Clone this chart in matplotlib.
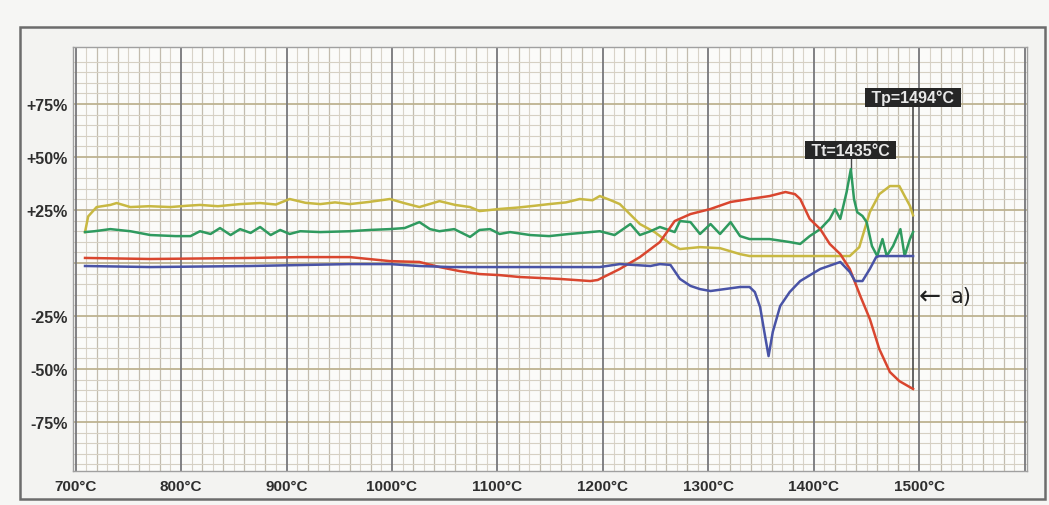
import matplotlib
matplotlib.use("Agg")
import matplotlib.pyplot as plt
from matplotlib.patches import Rectangle
import numpy as np

# ---------------- data ----------------
yellow_t = [709, 712, 720, 733, 739, 752, 770, 790, 805, 818, 835, 856, 875, 890, 903, 918, 932, 946,
            960, 978, 998, 1012, 1026, 1045, 1060, 1074, 1083, 1102, 1120, 1135, 1149, 1165, 1178, 1190,
            1197, 1207, 1216, 1235, 1249, 1264, 1273, 1292, 1311, 1330, 1339, 1377, 1410, 1434, 1443,
            1453, 1462, 1472, 1481, 1486, 1491, 1494]
yellow_v = [14.6, 22, 26.4, 27.4, 28.3, 26.4, 26.8, 26.4, 27.0, 27.4, 26.8, 27.8, 28.3, 27.6, 30.2, 28.4, 27.8, 28.6,
            27.8, 28.8, 30.2, 28.2, 26.4, 29.2, 27.4, 26.4, 24.5, 25.5, 26.2, 27.0, 27.8, 28.6, 30.2, 29.6,
            31.6, 29.7, 27.8, 18.4, 14.6, 9, 6.6, 7.5, 7, 4.2, 3.3, 3.3, 3.3, 3.3, 7.5,
            24, 32.5, 36.3, 36.3, 31.6, 27.0, 22.5]

green_t = [709, 718, 733, 752, 771, 795, 809, 818, 828, 837, 847, 856, 866, 875, 885, 894, 903, 913,
           932, 960, 979, 998, 1012, 1026, 1036, 1045, 1059, 1074, 1083, 1093, 1102, 1112, 1131, 1149,
           1168, 1197, 1211, 1226, 1235, 1245, 1254, 1268, 1273, 1283, 1292, 1302, 1311, 1321, 1330,
           1339, 1358, 1377, 1387, 1396, 1406, 1415, 1420, 1425, 1431, 1435, 1438, 1441, 1446, 1450,
           1455, 1460, 1465, 1469, 1475, 1482, 1486, 1491, 1494]
green_v = [14.6, 15, 16, 15, 13.2, 12.7, 12.7, 15, 13.7, 16.5, 13.2, 16, 14.2, 17, 13.2, 15.6, 13.7, 15,
           14.6, 15, 15.6, 16, 16.5, 19.3, 16, 15, 16, 12.3, 15.6, 16, 13.7, 14.6, 13.2, 12.7,
           13.7, 15, 13.2, 18.4, 13.2, 15, 17, 14.6, 19.8, 19.3, 13.7, 18.4, 13.7, 19.3, 12.7,
           11.3, 11.3, 9.9, 9, 12.7, 16, 20.8, 25.5, 20.8, 33.5, 44.3, 30.2, 24, 22.2, 19.3,
           8, 3.3, 11.3, 3.3, 8, 16, 3.3, 11.3, 14.6]

red_t = [709, 771, 866, 913, 960, 998, 1026, 1045, 1064, 1083, 1102, 1121, 1159, 1188, 1195, 1216,
         1235, 1254, 1268, 1283, 1302, 1321, 1339, 1358, 1373, 1382, 1387, 1396, 1406, 1415, 1425,
         1434, 1444, 1453, 1462, 1472, 1481, 1494]
red_v = [2.4, 1.9, 2.4, 2.8, 2.8, 0.9, 0.5, -1.9, -3.8, -5.2, -5.7, -6.6, -7.5, -8.5, -8, -2.8,
         2.8, 9.9, 19.8, 23.1, 25.5, 28.8, 30.2, 31.6, 33.5, 32.5, 30.2, 20.8, 16, 9, 4.2,
         -2.8, -15.6, -26.4, -40.6, -51.4, -55.7, -59.4]

blue_t = [709, 771, 866, 960, 998, 1026, 1055, 1197, 1216, 1245, 1254, 1264, 1273, 1283, 1292, 1302,
          1330, 1339, 1344, 1349, 1353, 1357, 1361, 1368, 1377, 1387, 1406, 1425, 1434, 1439, 1446,
          1453, 1459, 1462, 1494]
blue_v = [-1.4, -1.9, -1.4, -0.5, -0.5, -1.4, -1.9, -1.9, -0.5, -1.4, -0.5, -0.9, -7.5, -10.8, -12.3, -13.2,
          -11.3, -11.3, -13.7, -20.8, -32.5, -43.9, -32.5, -20.3, -13.7, -8.5, -2.8, 0.5, -4.2, -8.5, -8.5,
          -2.8, 2.8, 3.3, 3.3]

x_ticks = [700, 800, 900, 1000, 1100, 1200, 1300, 1400, 1500]
x_labels = ["700°C", "800°C", "900°C", "1000°C", "1100°C", "1200°C", "1300°C", "1400°C", "1500°C"]
y_ticks = [75, 50, 25, -25, -50, -75]
y_labels = ["+75%", "+50%", "+25%", "-25%", "-50%", "-75%"]

tt_label, tt_temp, tt_peak = "Tt=1435°C", 1435, 44.3
tp_label, tp_temp, tp_end = "Tp=1494°C", 1494, -59.4

# ---------------- figure ----------------
W, H = 1049, 506
fig = plt.figure(figsize=(W / 100, H / 100), dpi=100, facecolor="#f6f6f4")
fig.patches.append(Rectangle((20 / W, 1 - 500 / H), 1025 / W, 472 / H, transform=fig.transFigure,
                             facecolor="#f3f3f1", edgecolor="#6c6c6c", lw=1.8, zorder=-10))

ax = fig.add_axes([73 / W, 1 - 472 / H, (1027 - 73) / W, (472 - 48) / H])
ax.set_zorder(1)
ax.set_facecolor("#fbfbf9")
ax.set_xlim(697.6, 1602)
ax.set_ylim(-98.1, 101.9)

# graph-paper grid
for t in np.arange(700, 1601, 10):
    if t % 100 == 0:
        continue
    c, lw = ("#c3bcae", 0.9) if t % 20 == 0 else ("#d8d3c8", 0.8)
    ax.axvline(t, color=c, lw=lw, zorder=1)
for v in np.arange(-95, 101, 5):
    if v % 25 == 0:
        continue
    ax.axhline(v, color="#d6d0c3", lw=0.8, zorder=1)
for v in [-75, -50, -25, 0, 25, 50, 75]:
    ax.axhline(v, color="#bdb290", lw=1.3, zorder=1.5)
for t in x_ticks + [1600]:
    ax.axvline(t, color="#77777a", lw=1.3, zorder=1.6)

for s in ax.spines.values():
    s.set_color("#a0a0a0")
    s.set_linewidth(1.0)

ax.set_xticks(x_ticks)
ax.set_xticklabels(x_labels)
ax.set_yticks(y_ticks)
ax.set_yticklabels(y_labels)
ax.tick_params(length=0, pad=6, labelcolor="#2e2e2e")
ax.tick_params(axis="x", labelsize=11)
ax.tick_params(axis="y", pad=4, labelsize=11.5)
for lab in ax.get_xticklabels() + ax.get_yticklabels():
    lab.set_fontfamily("Liberation Sans")
    lab.set_fontweight("bold")

# series
ax.plot(yellow_t, yellow_v, color="#c8b842", lw=1.8, zorder=3)
ax.plot(green_t, green_v, color="#2f9a5f", lw=1.8, zorder=3)
ax.plot(red_t, red_v, color="#d9462f", lw=1.8, zorder=3)
ax.plot(blue_t, blue_v, color="#4953a6", lw=1.8, zorder=3)

# markers for Tt and Tp
ax.plot([tt_temp, tt_temp], [tt_peak, 50], color="#4a4a4a", lw=1.0, zorder=2.5)
ax.plot([tp_temp, tp_temp], [tp_end, 75], color="#4a4a4a", lw=1.2, zorder=2.5)
box = dict(boxstyle="square,pad=0.12", facecolor="#262626", edgecolor="none")
ax.text(tt_temp, 53.3, " " + tt_label + " ", ha="center", va="center", color="#e8e8e8", fontsize=11.5,
        family="Liberation Sans", weight="bold", bbox=box, zorder=5)
ax.text(tp_temp, 78, " " + tp_label + " ", ha="center", va="center", color="#e8e8e8", fontsize=11.5,
        family="Liberation Sans", weight="bold", bbox=box, zorder=5)

ax.text(1499, -15.6, "\u2190", ha="left", va="center", fontsize=19, color="#222222",
        family="DejaVu Sans", zorder=5)
ax.text(1530, -15.6, "a)", ha="left", va="center", fontsize=15, color="#222222",
        family="DejaVu Sans", zorder=5)

fig.savefig("out.png", dpi=100, facecolor=fig.get_facecolor())
